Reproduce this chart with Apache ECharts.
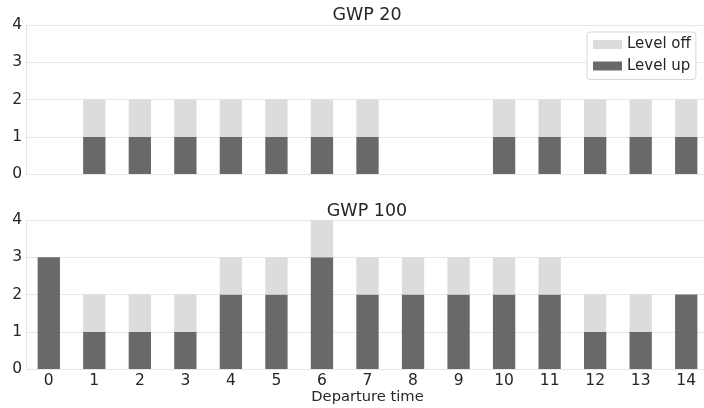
<!DOCTYPE html>
<html>
<head>
<meta charset="utf-8">
<script src="https://cdn.jsdelivr.net/npm/echarts@6/dist/echarts.min.js"></script>
<style>html,body{margin:0;padding:0;background:#fff}#c{width:704px;height:408px}</style>
</head>
<body>
<div id="c"></div>
<script>
var categories = ['0','1','2','3','4','5','6','7','8','9','10','11','12','13','14'];
var yTicks = [0, 1, 2, 3, 4];
var gwp20Up  = [0,1,1,1,1,1,1,1,0,0,1,1,1,1,1];
var gwp20Off = [0,1,1,1,1,1,1,1,0,0,1,1,1,1,1];
var gwp100Up  = [3,1,1,1,2,2,3,2,2,2,2,2,1,1,2];
var gwp100Off = [0,1,1,1,1,1,1,1,1,1,1,1,1,1,0];
var titles = ['GWP 20', 'GWP 100'];
var xName = 'Departure time';

var UP = '#696969', OFF = '#dcdcdc', GRIDC = '#e6e6e6', TXT = '#262626';
var FONT = 'DejaVu Sans';

function yAx(i){
  return {gridIndex:i, type:'value', min:yTicks[0], max:yTicks[yTicks.length-1], interval:1,
    axisLine:{show:true, lineStyle:{color:GRIDC, width:1}}, axisTick:{show:false},
    axisLabel:{color:TXT, fontSize:15.5, fontFamily:FONT, margin:4},
    splitLine:{show:true, lineStyle:{color:GRIDC, width:1}}};
}
function xAx(i, labels){
  var a = {gridIndex:i, type:'category', data:categories, boundaryGap:true,
    axisLine:{show:false}, axisTick:{show:false},
    axisLabel:{show:labels, color:TXT, fontSize:15.5, fontFamily:FONT, margin:4},
    splitLine:{show:false}};
  if (labels) { a.name = xName; a.nameLocation='middle'; a.nameGap=19;
    a.nameTextStyle = {color:TXT, fontSize:14.7, fontFamily:FONT}; }
  return a;
}
function bar(name, data, xi, stack){
  return {name:name, type:'bar', xAxisIndex:xi, yAxisIndex:xi, stack:stack, data:data,
    barWidth:'49%', itemStyle:{color: name==='Level up'?UP:OFF}, silent:true, animation:false};
}
function titleText(t, y){
  return {type:'text', x:367, y:y, silent:true,
    style:{text:t, align:'center', verticalAlign:'middle', textAlign:'center', textVerticalAlign:'middle',
      fill:TXT, font:'17.5px "DejaVu Sans"'}};
}
var opt = {
  animation:false,
  graphic:[titleText(titles[0], 15.5), titleText(titles[1], 211)],
  legend:{data:['Level off','Level up'], orient:'vertical', left:587, top:32,
    padding:[5,5,6,6], itemGap:6.5, itemWidth:29, itemHeight:9, itemTextGap:11,
    borderColor:'#d8d8d8', borderWidth:1, borderRadius:3, backgroundColor:'#fff',
    textStyle:{color:TXT, fontSize:15, fontFamily:FONT}, icon:'rect'},
  grid:[
    {left:26, top:25, height:149, right:-5, outerBoundsMode:'none', containLabel:false},
    {left:26, top:220, height:149, right:-5, outerBoundsMode:'none', containLabel:false}
  ],
  xAxis:[xAx(0,false), xAx(1,true)],
  yAxis:[yAx(0), yAx(1)],
  series:[
    bar('Level up', gwp20Up, 0, 'a'),
    bar('Level off', gwp20Off, 0, 'a'),
    bar('Level up', gwp100Up, 1, 'b'),
    bar('Level off', gwp100Off, 1, 'b')
  ]
};
var ch = echarts.init(document.getElementById('c'), null, {renderer:'canvas'});
ch.setOption(opt);
</script>
</body>
</html>
